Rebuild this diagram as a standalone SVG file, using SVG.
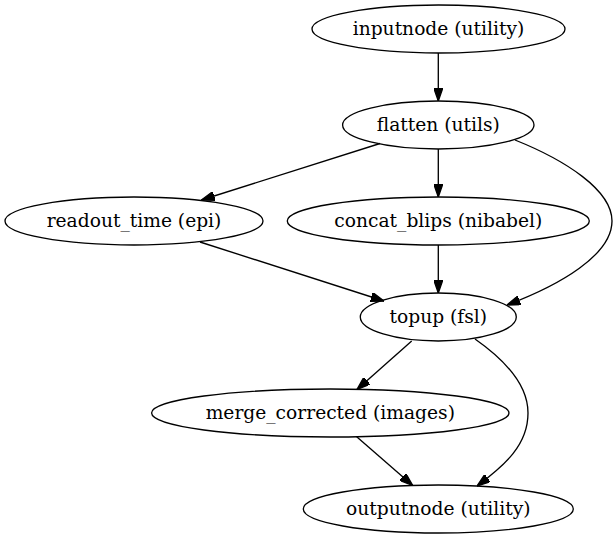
<svg xmlns="http://www.w3.org/2000/svg" width="615" height="539" viewBox="0 0 615 539">
<style>
.n ellipse{fill:none;stroke:#000;stroke-width:1.33}
.n text{font-family:"DejaVu Serif",serif;font-size:18.67px;text-anchor:middle;fill:#000}
#edges path{fill:none;stroke:#000;stroke-width:1.33;marker-end:url(#ah)}
</style>
<defs>
<marker id="ah" viewBox="0 0 10 7" refX="10" refY="3.5" markerWidth="13.3" markerHeight="9.3" markerUnits="userSpaceOnUse" orient="auto">
<path d="M0,0 L10,3.5 L0,7 z" fill="#000" stroke="#000" stroke-width="1"/>
</marker>
</defs>
<rect width="615" height="539" fill="#fff"/>
<g id="edges">
<path d="M438.3,53 L438.3,101"/>
<path d="M380,143.5 L201.5,200"/>
<path d="M438.3,149 L438.3,197"/>
<path d="M515,140 C565,160 612,190 612,221 C612,255 560,285 507,305"/>
<path d="M200,242 L384,301"/>
<path d="M438.3,245 L438.3,293"/>
<path d="M411.7,341 L357,389.5"/>
<path d="M475,339 C505,360 528,385 528,413 C528,445 505,465 477,486"/>
<path d="M356.7,436.7 L412.7,485.5"/>
</g>
<g id="inputnode" class="n"><ellipse cx="438.5" cy="29" rx="126.5" ry="24"/><text x="438.5" y="35">inputnode (utility)</text></g>
<g id="flatten" class="n"><ellipse cx="438.3" cy="125" rx="95.7" ry="24"/><text x="438.3" y="131">flatten (utils)</text></g>
<g id="readout_time" class="n"><ellipse cx="134" cy="221" rx="129" ry="24"/><text x="134" y="227">readout_time (epi)</text></g>
<g id="concat_blips" class="n"><ellipse cx="438.3" cy="221" rx="151" ry="24"/><text x="438.3" y="227">concat_blips (nibabel)</text></g>
<g id="topup" class="n"><ellipse cx="438.3" cy="317" rx="78" ry="24"/><text x="438.3" y="323">topup (fsl)</text></g>
<g id="merge_corrected" class="n"><ellipse cx="330.3" cy="413" rx="178.7" ry="24"/><text x="330.3" y="419">merge_corrected (images)</text></g>
<g id="outputnode" class="n"><ellipse cx="438.3" cy="509" rx="135" ry="24"/><text x="438.3" y="515">outputnode (utility)</text></g>
</svg>
